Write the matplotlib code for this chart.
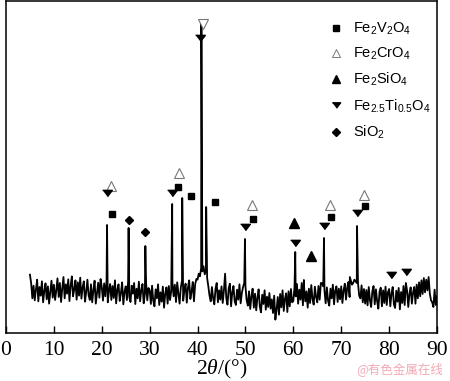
import numpy as np
import matplotlib.pyplot as plt
from matplotlib.lines import Line2D

# ----------------------------
# Data
# ----------------------------
# background trace, one value every 0.25 deg from 5 to 90
base_start, base_step = 5.0, 0.25
base_y = [
    175, 150, 104, 142, 98, 131, 160, 95, 138, 112, 155, 92, 126, 149, 101, 140, 88, 121, 157, 106,
    145, 99, 128, 164, 108, 150, 93, 134, 168, 104, 146, 118, 161, 96, 142, 170, 110, 131, 158, 100,
    152, 112, 166, 103, 137, 155, 94, 124, 160, 113, 99, 146, 92, 128, 157, 88, 120, 151, 106, 162,
    138, 97, 149, 110, 156, 92, 126, 147, 99, 141, 105, 158, 89, 130, 146, 96, 121, 152, 86, 124,
    140, 99, 155, 108, 93, 142, 118, 150, 87, 133, 104, 154, 95, 128, 147, 89, 117, 151, 98, 135,
    128, 87, 142, 97, 80, 131, 104, 146, 84, 122, 94, 139, 76, 118, 137, 88, 141, 99, 125, 150,
    110, 145, 93, 152, 118, 88, 136, 157, 97, 129, 148, 91, 137, 158, 102, 124, 153, 95, 146, 162,
    160, 178, 170, 195, 185, 200, 176, 190, 165, 140, 112, 95, 138, 104, 86, 133, 150, 92, 128, 100,
    140, 90, 127, 178, 104, 85, 134, 148, 80, 122, 141, 95, 84, 130, 100, 146, 89, 120, 138, 150,
    140, 98, 82, 125, 72, 110, 133, 76, 118, 68, 106, 131, 79, 62, 115, 87, 128, 70, 109, 78,
    120, 73, 101, 60, 112, 40, 70, 108, 55, 117, 77, 128, 66, 103, 119, 63, 125, 80, 132, 92,
    96, 138, 110, 147, 88, 130, 100, 150, 83, 137, 95, 125, 76, 133, 90, 144, 102, 85, 139, 108,
    92, 141, 100, 150, 150, 140, 128, 89, 137, 97, 82, 133, 104, 145, 86, 127, 140, 93, 133, 101,
    140, 90, 128, 148, 100, 136, 153, 108, 158, 145, 150, 160, 155, 150, 150, 112, 104, 143, 92, 132,
    88, 129, 83, 138, 98, 78, 125, 141, 86, 131, 95, 73, 124, 136, 80, 128, 90, 139, 84, 122,
    132, 80, 119, 138, 86, 75, 127, 94, 135, 71, 123, 90, 141, 84, 150, 127, 78, 118, 137, 88,
    122, 138, 88, 145, 104, 152, 110, 158, 117, 165, 122, 160, 128, 168, 118, 98, 92, 78, 130, 84,
    110,
]

# diffraction peaks (2theta, apex intensity)
peak_pos = [19.7, 21.1, 25.6, 29.1, 34.7, 36.8, 40.8, 41.8, 49.9, 60.4, 62.2, 66.4, 71.8, 73.3]
peak_top = [153, 324, 315, 261, 387, 405, 935, 378, 282, 243, 159, 285, 168, 321]

# phase markers
fvo_x = [22.2, 36.0, 38.7, 43.7, 51.6, 67.9, 74.9]
fvo_y = [357, 438, 411, 393, 342, 348, 381]
fco_x = [22.0, 36.2, 51.4, 67.6, 74.7]
fco_y = [441, 480, 384, 384, 414]
fco_top_x = [41.2]
fco_top_y = [927]
fso_x = [60.1, 63.7]
fso_y = [330, 231]
fto_x = [21.0, 34.7, 40.5, 49.9, 60.4, 66.4, 73.3, 80.4, 83.5]
fto_y = [420, 420, 885, 318, 270, 321, 360, 174, 183]
sio_x = [25.6, 29.1]
sio_y = [339, 303]

labels = [r'Fe$_2$V$_2$O$_4$', r'Fe$_2$CrO$_4$', r'Fe$_2$SiO$_4$',
          r'Fe$_{2.5}$Ti$_{0.5}$O$_4$', r'SiO$_2$']

# ----------------------------
# Build trace
# ----------------------------
base_x = base_start + base_step * np.arange(len(base_y))
x_all = np.concatenate([base_x, peak_pos])
y_all = np.concatenate([base_y, peak_top])
order = np.argsort(x_all)
x_all, y_all = x_all[order], y_all[order]

plt.rcParams['mathtext.fontset'] = 'custom'
plt.rcParams['mathtext.rm'] = 'Liberation Sans'
plt.rcParams['mathtext.it'] = 'Liberation Serif:italic'

# flat down-pointing triangle like the original
flat_v = [(-1.0, 0.65), (1.0, 0.65), (0.0, -0.65)]

fig = plt.figure(figsize=(4.5, 3.81), dpi=100)
ax = fig.add_axes([6 / 450, 1 - 333 / 381, 431 / 450, 332 / 381])

ax.plot(x_all, y_all, color='black', lw=1.3)

ax.plot(fvo_x, fvo_y, 's', color='black', ms=5, ls='none')
ax.plot(fco_x, fco_y, '^', mfc='white', mec='#777777', mew=0.8, ms=6.5, ls='none')
ax.plot(fco_top_x, fco_top_y, 'v', mfc='white', mec='#777777', mew=0.8, ms=6.5, ls='none')
ax.plot(fso_x, fso_y, '^', color='black', ms=6.5, ls='none')
ax.plot(fto_x, fto_y, marker=flat_v, color='black', ms=7, ls='none')
ax.plot(sio_x, sio_y, 'D', color='black', ms=4.2, ls='none')

handles = [
    Line2D([], [], marker='s', color='black', ms=4, ls='none'),
    Line2D([], [], marker='^', mfc='white', mec='#777777', mew=0.7, ms=5.5, ls='none'),
    Line2D([], [], marker='^', color='black', ms=5.5, ls='none'),
    Line2D([], [], marker=flat_v, color='black', ms=6, ls='none'),
    Line2D([], [], marker='D', color='black', ms=3.8, ls='none'),
]
leg = ax.legend(handles, labels, loc='upper left', bbox_to_anchor=(0.736, 0.957),
                frameon=False, handlelength=1.0, handletextpad=0.65,
                labelspacing=0.62, borderaxespad=0,
                prop={'family': 'Liberation Sans', 'size': 10.5})

ax.set_xlim(0, 90)
ax.set_ylim(0, 996)
ax.set_xticks(np.arange(0, 91, 10))
ax.set_yticks([])
ax.tick_params(axis='x', direction='in', length=5, width=1, pad=6)
for lbl in ax.get_xticklabels():
    lbl.set_fontfamily('Liberation Serif')
    lbl.set_fontsize(15.5)
for sp in ax.spines.values():
    sp.set_linewidth(1.1)

ax.set_xlabel(r'2$\theta$/(°)', fontfamily='Liberation Serif', fontsize=15.5, labelpad=-2)

fig.text(0.985, 0.012, '@有色金属在线', ha='right', va='bottom', color='#f2a9b4',
         fontsize=9, family=['Noto Sans CJK SC', 'DejaVu Sans'])

fig.savefig('out.png', dpi=100)
